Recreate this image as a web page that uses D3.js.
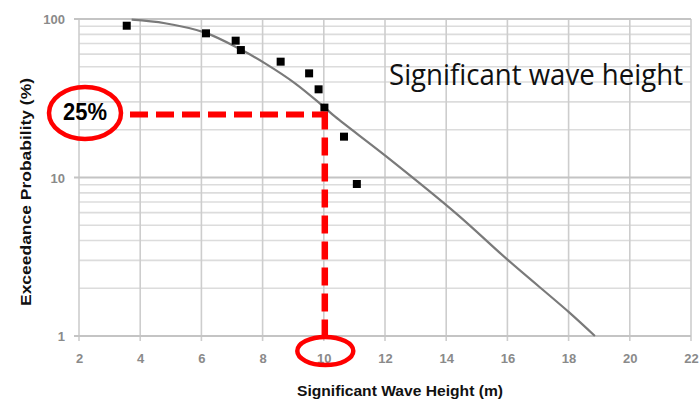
<!DOCTYPE html>
<html><head><meta charset="utf-8">
<script src="https://cdn.jsdelivr.net/npm/d3@7"></script>
<style>html,body{margin:0;padding:0;background:#fff;}svg{display:block;}</style>
</head><body>
<svg id="c" width="699" height="401"></svg>
<script>
// Observed points (Significant wave height m, exceedance %)
const obsHeight = [3.56, 6.15, 7.12, 7.29, 8.59, 9.52, 9.83, 10.02, 10.66, 11.08];
const obsProb   = [90.7, 81.2, 73.0, 63.7, 53.8, 45.4, 36.0, 27.6, 18.1, 9.1];
// Fitted curve
const fitHeight = [3.72, 4.81, 6.12, 7.32, 8.08, 9.06, 9.93, 10.37, 12.06, 14.34, 16.03, 18.0, 18.86];
const fitProb   = [99.0, 94.0, 82.0, 63.7, 52.5, 39.3, 28.7, 24.2, 13.5, 5.9, 3.0, 1.42, 1.0];
const xTicks = [2, 4, 6, 8, 10, 12, 14, 16, 18, 20, 22];
const yMajor = [1, 10, 100];
const yMinor = [2,3,4,5,6,7,8,9,20,30,40,50,60,70,80,90];
const annotValue = 25;      // %
const annotHeight = 10;     // m
const chartLabel = "Significant wave height";
const xTitle = "Significant  Wave  Height (m)";
const yTitle = "Exceedance  Probability  (%)";

const svg = d3.select("#c");
const L = 79, R = 691, T = 19, B = 336;
const x = d3.scaleLinear().domain([2, 22]).range([L, R]);
const y = d3.scaleLog().domain([1, 100]).range([B, T]);

// minor horizontal grid
svg.append("g").selectAll("line").data(yMinor).join("line")
  .attr("x1", L).attr("x2", R).attr("y1", d => y(d)).attr("y2", d => y(d))
  .attr("stroke", "#dcdcdc").attr("stroke-width", 1.6);
// vertical grid
svg.append("g").selectAll("line").data(xTicks).join("line")
  .attr("x1", d => x(d)).attr("x2", d => x(d)).attr("y1", T).attr("y2", B + 5)
  .attr("stroke", "#cdcdcd").attr("stroke-width", 1.6);
// major horizontal grid
svg.append("g").selectAll("line").data(yMajor).join("line")
  .attr("x1", L - 5).attr("x2", R).attr("y1", d => y(d)).attr("y2", d => y(d))
  .attr("stroke", "#c4c4c4").attr("stroke-width", 1.8);

// axes labels via d3 axes
const xAxis = d3.axisBottom(x).tickValues(xTicks).tickSize(0).tickPadding(0).tickFormat(d3.format("d"));
const gx = svg.append("g").attr("transform", `translate(0,${B})`).call(xAxis);
gx.select(".domain").remove();
gx.selectAll("text").attr("dy", 0).attr("y", 27)
  .attr("font-family", "Liberation Sans, Arial, sans-serif").attr("font-size", 13)
  .attr("font-weight", "bold").attr("fill", "#8a8a8a");

const yAxis = d3.axisLeft(y).tickValues(yMajor).tickSize(0).tickPadding(0).tickFormat(d3.format("d"));
const gy = svg.append("g").attr("transform", `translate(${L},0)`).call(yAxis);
gy.select(".domain").remove();
gy.selectAll("text").attr("x", -14).attr("dy", "0.35em")
  .attr("font-family", "Liberation Sans, Arial, sans-serif").attr("font-size", 13)
  .attr("font-weight", "bold").attr("fill", "#8a8a8a");

// fitted curve
const line = d3.line().x((d, i) => x(fitHeight[i])).y((d, i) => y(fitProb[i])).curve(d3.curveCatmullRom.alpha(0.5));
svg.append("path").datum(fitHeight).attr("d", line)
  .attr("fill", "none").attr("stroke", "#7a7a7a").attr("stroke-width", 2.2);

// observed points
svg.append("g").selectAll("rect").data(obsHeight).join("rect")
  .attr("x", (d) => x(d) - 4).attr("y", (d, i) => y(obsProb[i]) - 4)
  .attr("width", 8).attr("height", 8).attr("fill", "#000");

// titles
svg.append("text").attr("x", 297).attr("y", 396)
  .attr("font-family", "Liberation Sans, Arial, sans-serif").attr("font-size", 14.5)
  .attr("font-weight", "bold").attr("fill", "#111")
  .attr("textLength", 206).attr("lengthAdjust", "spacingAndGlyphs").text(xTitle);
svg.append("text").attr("transform", "translate(31,192) rotate(-90)").attr("text-anchor", "middle")
  .attr("font-family", "Liberation Sans, Arial, sans-serif").attr("font-size", 15)
  .attr("font-weight", "bold").attr("fill", "#111")
  .attr("textLength", 228).attr("lengthAdjust", "spacingAndGlyphs").text(yTitle);
svg.append("text").attr("x", 389).attr("y", 85)
  .attr("font-family", "Open Sans, sans-serif").attr("font-size", 29).attr("fill", "#111")
  .attr("textLength", 294).attr("lengthAdjust", "spacingAndGlyphs").text(chartLabel);

// annotations
const red = "#ff0000";
svg.append("line").attr("x1", 124).attr("x2", x(annotHeight)).attr("y1", y(annotValue)).attr("y2", y(annotValue))
  .attr("stroke", red).attr("stroke-width", 6).attr("stroke-dasharray", "18,8").attr("stroke-dashoffset", -6);
svg.append("line").attr("x1", x(annotHeight) + 1).attr("x2", x(annotHeight) + 1).attr("y1", y(annotValue) - 3).attr("y2", B + 2)
  .attr("stroke", red).attr("stroke-width", 6.5).attr("stroke-dasharray", "18,8");
svg.append("ellipse").attr("cx", 85).attr("cy", 113).attr("rx", 36).attr("ry", 26)
  .attr("fill", "none").attr("stroke", red).attr("stroke-width", 4.5);
svg.append("text").attr("x", 63).attr("y", 120)
  .attr("font-family", "Liberation Sans, Arial, sans-serif").attr("font-size", 24).attr("font-weight", "bold")
  .attr("fill", "#000").attr("textLength", 44).attr("lengthAdjust", "spacingAndGlyphs").text(annotValue + "%");
svg.append("ellipse").attr("cx", x(annotHeight) + 1.5).attr("cy", 351).attr("rx", 28).attr("ry", 14)
  .attr("fill", "none").attr("stroke", red).attr("stroke-width", 4.5);
</script>
</body></html>
